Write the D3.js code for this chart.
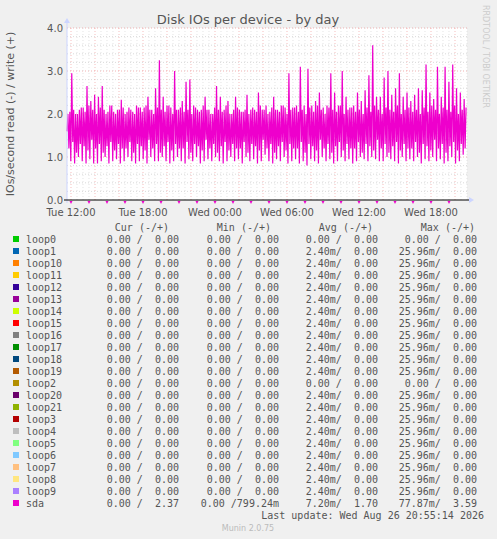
<!DOCTYPE html><html><head><meta charset="utf-8"><script src="https://cdn.jsdelivr.net/npm/d3@7"></script>
<style>body{margin:0;background:#f0f0f0}</style></head><body><svg id="c" width="497" height="539"></svg><script>
const xTicks=["Tue 12:00","Tue 18:00","Wed 00:00","Wed 06:00","Wed 12:00","Wed 18:00"];
const yTicks=[0,1,2,3,4];
// sda write: alternating per-cycle peaks and troughs
const highs=[2.0,2.95,2.0,2.1,2.15,2.65,2.3,2.45,2.4,2.65,2.0,2.2,2.05,2.1,2.33,2.0,2.15,2.05,2.2,2.15,2.15,2.4,2.1,2.6,3.25,2.4,2.2,2.15,3.0,2.1,2.3,2.75,2.8,2.2,2.1,2.1,2.4,2.1,2.0,2.65,2.4,2.1,2.3,2.0,2.4,2.1,2.05,2.45,2.1,2.1,2.5,2.1,2.2,2.05,2.4,2.1,2.2,2.15,2.95,2.15,2.2,3.1,2.2,3.05,2.2,2.3,2.5,2.15,2.2,2.95,2.5,2.2,3.0,2.4,2.15,2.2,2.5,2.3,2.55,2.9,3.6,2.4,2.4,2.85,3.0,2.45,2.6,2.95,2.4,2.5,2.3,2.45,2.6,2.55,3.15,2.5,2.35,3.1,2.4,3.1,2.75,3.15,2.6,2.5,2.35];
const lows=[1.6,0.9,0.85,1.0,0.9,0.85,0.95,0.85,0.85,0.9,1.0,0.85,0.9,0.95,0.85,0.9,1.0,0.9,0.85,0.9,0.95,0.85,1.0,0.9,0.9,1.0,0.9,0.85,0.9,1.0,0.9,0.85,0.95,0.9,1.0,0.85,0.9,0.95,0.9,1.0,0.9,0.85,0.9,1.0,0.9,0.95,0.85,1.0,0.9,0.95,0.85,0.9,1.05,0.9,0.85,0.95,0.9,1.0,0.85,0.9,0.95,0.85,0.9,0.8,0.95,0.9,0.85,1.0,0.9,0.95,0.85,0.9,1.0,0.9,0.95,0.85,0.9,1.0,0.95,0.9,1.0,0.95,0.9,0.9,1.0,0.95,0.9,0.85,1.0,0.9,0.95,0.9,1.0,0.85,0.95,0.9,1.0,0.9,0.95,0.85,0.9,1.0,0.85,0.9,1.05];
const subHighs=[2.05,2.1,2.0,2.15,2.05,2.2,2.1,2.0,2.15,2.1,2.05,2.2,2.0,2.1,2.15];
const subLows=[1.2,1.35,1.1,1.3,1.25,1.15,1.4,1.2,1.3,1.1,1.25,1.35,1.15,1.3,1.2];
const names=["loop0","loop1","loop10","loop11","loop12","loop13","loop14","loop15","loop16","loop17","loop18","loop19","loop2","loop20","loop21","loop3","loop4","loop5","loop6","loop7","loop8","loop9","sda"];
const colors=["#00cc00","#0066b3","#ff8000","#ffcc00","#330099","#990099","#ccff00","#ff0000","#808080","#008f00","#00487d","#b35a00","#b38f00","#6b006b","#8fb300","#b30000","#bebebe","#80ff80","#80c9ff","#ffc080","#ffe680","#aa80ff","#ee00cc"];
const cur=names.map(n=>n==="sda"?"0.00 /  2.37":"0.00 /  0.00");
const mins=names.map(n=>n==="sda"?"0.00 /799.24m":"0.00 /  0.00");
const avgs=names.map(n=>n==="sda"?"7.20m/  1.70":(n==="loop0"||n==="loop2")?"0.00 /  0.00":"2.40m/  0.00");
const maxs=names.map(n=>n==="sda"?"77.87m/  3.59":(n==="loop0"||n==="loop2")?"0.00 /  0.00":"25.96m/  0.00");

const svg=d3.select("#c");
const L=67,R=467,T=28,B=200;
const x=d3.scaleLinear().domain([-20/60,33.0]).range([L,R]);
const y=d3.scaleLinear().domain([0,4]).range([B,T]);
svg.append("rect").attr("x",L).attr("y",T).attr("width",R-L).attr("height",B-T).attr("fill","#fff");
const g=svg.append("g");
for(let v=0.2;v<4.01;v+=0.2){const maj=Math.abs(v-Math.round(v))<1e-6;
 g.append("line").attr("x1",L).attr("x2",R).attr("y1",y(v)).attr("y2",y(v)).attr("stroke",maj?"#f0a0a0":"#d0d0d0").attr("stroke-dasharray","1,2").attr("stroke-width",0.8);}
for(let h=0;h<=33;h+=0.5){const maj=h%2===0;
 g.append("line").attr("x1",x(h)).attr("x2",x(h)).attr("y1",T).attr("y2",B).attr("stroke",maj?"#f0a0a0":"#d8d8d8").attr("stroke-dasharray","1,2").attr("stroke-width",0.7);}
const pts=[];const n=highs.length;const step=(33.0+20/60)/(n);
for(let i=0;i<n;i++){const t0=-20/60+i*step;const k=i%subHighs.length;
 pts.push([t0,lows[i]]);pts.push([t0+step*0.25,highs[i]]);pts.push([t0+step*0.5,subLows[k]]);pts.push([t0+step*0.75,subHighs[k]]);}
svg.append("path").datum(pts).attr("d",d3.line().x(d=>x(d[0])).y(d=>y(d[1]))).attr("fill","none").attr("stroke","#ee00cc").attr("stroke-width",1.2);
for(let h=0;h<33;h+=1.5){svg.append("path").attr("d",`M${x(h)-1.5},${B+1}L${x(h)+1.5},${B+1}L${x(h)},${B+4}Z`).attr("fill","#ee00cc");}
svg.append("line").attr("x1",L).attr("x2",L).attr("y1",B+3).attr("y2",T-6).attr("stroke","#ccd5ff");
svg.append("line").attr("x1",L-3).attr("x2",R+3).attr("y1",B).attr("y2",B).attr("stroke","#000");
svg.append("path").attr("d",`M${L-3},${T-5}L${L+3},${T-5}L${L},${T-10}Z`).attr("fill","#ccd5ff");
svg.append("path").attr("d",`M${R+2},${B-3}L${R+2},${B+3}L${R+7},${B}Z`).attr("fill","#ccd5ff");
const ax=svg.append("g").attr("font-family","DejaVu Sans").attr("font-size",10).attr("fill","#555");
yTicks.forEach(v=>ax.append("text").attr("x",L-4).attr("y",y(v)+4).attr("text-anchor","end").text(v.toFixed(1)));
xTicks.forEach((t,i)=>ax.append("text").attr("x",x(i*6)).attr("y",B+16).attr("text-anchor","middle").text(t));
svg.append("text").attr("x",248).attr("y",24).attr("text-anchor","middle").attr("font-family","DejaVu Sans").attr("font-size",13).attr("fill","#555").text("Disk IOs per device - by day");
svg.append("text").attr("transform","translate(14,114) rotate(-90)").attr("text-anchor","middle").attr("font-family","DejaVu Sans").attr("font-size",11).attr("fill","#555").text("IOs/second read (-) / write (+)");
svg.append("text").attr("transform","translate(483,5) rotate(90)").attr("font-family","DejaVu Sans").attr("font-size",8).attr("fill","#ccc").text("RRDTOOL / TOBI OETIKER");
const lg=svg.append("g").attr("font-family","DejaVu Sans Mono").attr("font-size",10).attr("fill","#555");
[["Cur (-/+)",169],["Min (-/+)",271],["Avg (-/+)",373],["Max (-/+)",475]].forEach(h=>lg.append("text").attr("x",h[1]).attr("y",231).attr("text-anchor","end").text(h[0]));
names.forEach((nm,i)=>{const yy=243+i*12;
 lg.append("rect").attr("x",13).attr("y",yy-7).attr("width",6).attr("height",6).attr("fill",colors[i]);
 lg.append("text").attr("x",26).attr("y",yy).text(nm);
 [[cur,179],[mins,279],[avgs,378],[maxs,477]].forEach(c=>lg.append("text").attr("x",c[1]).attr("y",yy).attr("text-anchor","end").style("white-space","pre").text(c[0][i]));});
lg.append("text").attr("x",484).attr("y",519).attr("text-anchor","end").text("Last update: Wed Aug 26 20:55:14 2026");
svg.append("text").attr("x",248).attr("y",531).attr("text-anchor","middle").attr("font-family","DejaVu Sans").attr("font-size",8).attr("fill","#bbb").text("Munin 2.0.75");
</script></body></html>
